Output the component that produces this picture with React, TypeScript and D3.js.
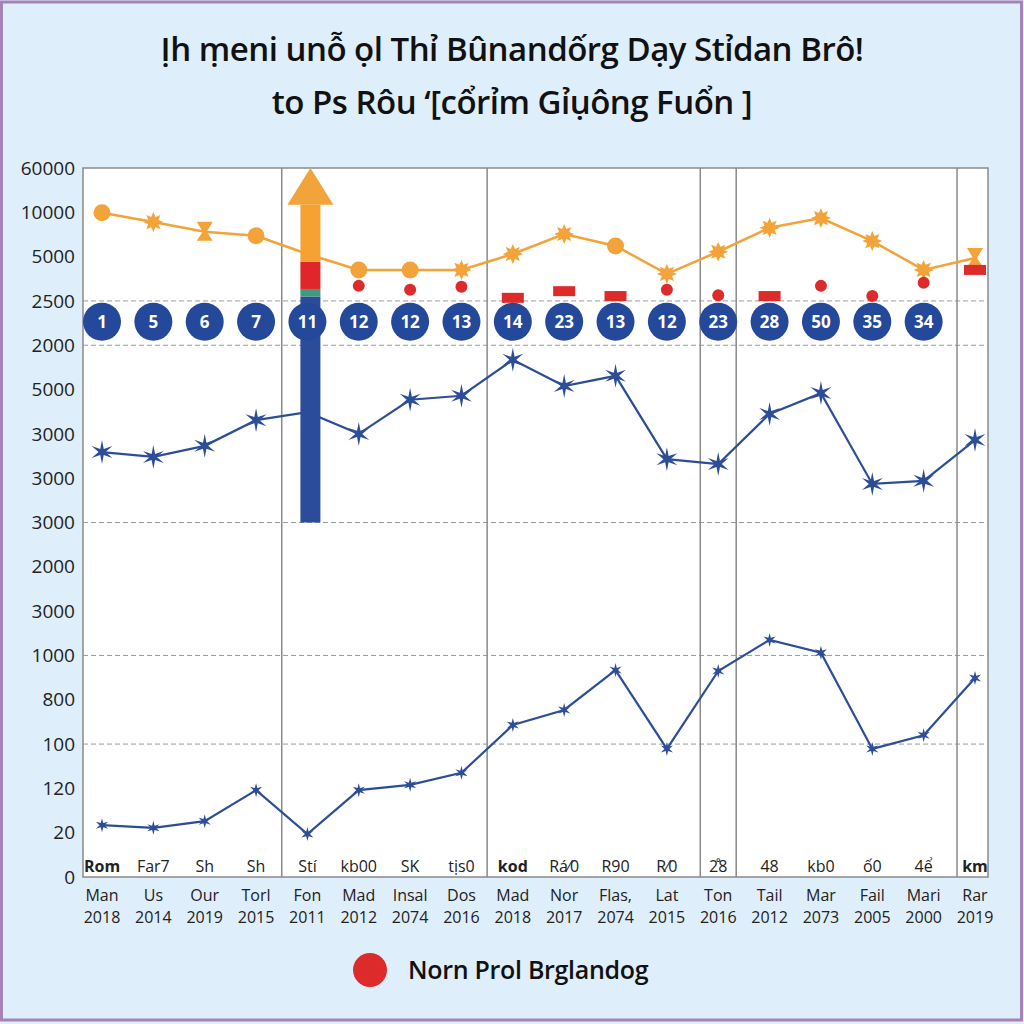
import React from "react";
import * as d3 from "d3";

// tick labels as printed on the left axis (top to bottom)
const yTickLabels = [
  "60000", "10000", "5000", "2500", "2000", "5000", "3000", "3000", "3000",
  "2000", "3000", "1000", "800", "100", "120", "20", "0",
];
const gridTicks = [13, 12, 8, 5, 3];

const innerLabels = ["Rom", "Far7", "Sh", "Sh", "Stí", "kb00", "SK", "tịs0", "kod", "Rá⁄0", "R90", "R⁄0", "2̊8", "48", "kb0", "ố0", "4ể", "km"];
const months = ["Man", "Us", "Our", "Torl", "Fon", "Mad", "Insal", "Dos", "Mad", "Nor", "Flas,", "Lat", "Ton", "Tail", "Mar", "Fail", "Mari", "Rar"];
const years = ["2018", "2014", "2019", "2015", "2011", "2012", "2074", "2016", "2018", "2017", "2074", "2015", "2016", "2012", "2073", "2005", "2000", "2019"];

// values in axis-step units (0 = bottom tick, 16 = top tick)
const orangeValues = [14.99, 14.78, 14.56, 14.47, 14.06, 13.7, 13.7, 13.7, 14.06, 14.51, 14.24, 13.61, 14.11, 14.65, 14.87, 14.35, 13.7, 13.97];
const orangeMarks = ["circle", "star", "x", "circle", "none", "circle", "circle", "star", "star", "star", "circle", "star", "star", "star", "star", "star", "star", "x"];
const upperValues = [9.59, 9.48, 9.73, 10.31, 10.49, 10.0, 10.77, 10.86, 11.67, 11.08, 11.31, 9.43, 9.32, 10.45, 10.92, 8.87, 8.94, 9.86];
const lowerValues = [1.17, 1.11, 1.26, 1.96, 0.97, 1.96, 2.08, 2.35, 3.43, 3.77, 4.67, 2.89, 4.65, 5.35, 5.06, 2.89, 3.2, 4.49];
const badgeValues = [1, 5, 6, 7, 11, 12, 12, 13, 14, 23, 13, 12, 23, 28, 50, 35, 34];
const badgeLevel = 12.53;
const redValues = [null, null, null, null, null, 13.34, 13.25, 13.32, 13.07, 13.22, 13.11, 13.25, 13.13, 13.11, 13.34, 13.11, 13.41, 13.7];
const redShapes = ["", "", "", "", "", "dot", "dot", "dot", "rect", "rect", "rect", "dot", "dot", "rect", "dot", "dot", "dot", "rect"];
const arrowIndex = 4;
const arrowStops = [8.0, 13.1, 13.27, 13.88, 15.17, 16];
const arrowColors = ["#2b4c9b", "#3f9a7e", "#e0262a", "#f5a233"];
const dividerAfter = [3.5, 7.5, 11.65, 12.35, 16.65];
const legendLabel = "Norn Prol Brglandog";
const titleLines = ["Ịh ṃeni unỗ ọl Thỉ Bûnandốrg Dạy Stỉdan Brô!", "to Ps Rôu ‘[cổrỉm Gỉụông Fuổn ]"];

const W = 1024, H = 1024;
const plot = { left: 83, right: 988, top: 168, bottom: 877 };
const ORANGE = "#f2a33a";
const BLUE = "#2d4e97";
const RED = "#dd2a2a";

function starPath(cx: number, cy: number, n: number, ro: number, ri: number) {
  const pts: [number, number][] = [];
  for (let i = 0; i < n * 2; i++) {
    const a = (Math.PI * i) / n - Math.PI / 2;
    const r = i % 2 === 0 ? ro : ri;
    pts.push([cx + r * Math.cos(a), cy + r * Math.sin(a)]);
  }
  return "M" + pts.map((p) => p.join(",")).join("L") + "Z";
}

export default function App() {
  const x = d3.scalePoint<number>().domain(d3.range(months.length)).range([102, 975]);
  const y = d3.scaleLinear().domain([0, 16]).range([plot.bottom, plot.top]);
  const line = d3.line<number>().x((_, i) => x(i)!).y((d) => y(d));
  const step = x.step();

  return (
    <div style={{ position: "fixed", left: 0, top: 0 }}>
      <svg width={W} height={H} style={{ display: "block", fontFamily: "'Open Sans', 'Noto Sans', sans-serif" }}>
        <rect x={0} y={0} width={W} height={H} fill="#dfeefb" />
        <rect x={1.5} y={2} width={W - 4} height={H - 6} fill="none" stroke="#a683b6" strokeWidth={3} />

        {titleLines.map((t, i) => (
          <text key={i} x={512} y={61 + i * 53} textAnchor="middle" fontSize={33} fontWeight={600} fill="#111" letterSpacing={-0.5}>
            {t}
          </text>
        ))}

        <rect x={plot.left} y={plot.top} width={plot.right - plot.left} height={plot.bottom - plot.top} fill="#fff" stroke="#8a8a8a" strokeWidth={1.5} />

        {gridTicks.map((t) => (
          <line key={t} x1={plot.left} x2={plot.right} y1={y(t)} y2={y(t)} stroke="#9a9a9a" strokeDasharray="5,3" strokeWidth={1} />
        ))}

        {dividerAfter.map((d, i) => (
          <line key={i} x1={x(0)! + d * step} x2={x(0)! + d * step} y1={plot.top} y2={plot.bottom} stroke="#8a8a8a" strokeWidth={1.5} />
        ))}

        {yTickLabels.map((l, i) => (
          <text key={i} x={75} y={y(16 - i)} dy="0.35em" textAnchor="end" fontSize={19} fill="#222">
            {l}
          </text>
        ))}

        {/* lower line */}
        <path d={line(lowerValues)!} fill="none" stroke={BLUE} strokeWidth={2.2} />
        {lowerValues.map((v, i) => (
          <path key={i} d={starPath(x(i)!, y(v), 6, 7, 2.5)} fill={BLUE} />
        ))}

        {/* upper star line */}
        <path d={line(upperValues)!} fill="none" stroke={BLUE} strokeWidth={2.2} />
        {upperValues.map((v, i) =>
          i === arrowIndex ? null : <path key={i} d={starPath(x(i)!, y(v), 6, 12, 3.5)} fill={BLUE} />
        )}

        {/* orange line */}
        <path d={line(orangeValues)!} fill="none" stroke={ORANGE} strokeWidth={2.5} />
        {orangeValues.map((v, i) => {
          const cx = x(i)!, cy = y(v);
          const m = orangeMarks[i];
          if (m === "circle") return <circle key={i} cx={cx} cy={cy} r={8.5} fill={ORANGE} />;
          if (m === "star") return <path key={i} d={starPath(cx, cy, 8, 10, 5.5)} fill={ORANGE} />;
          if (m === "x")
            return (
              <path key={i} d={`M${cx - 8},${cy - 10}L${cx + 8},${cy - 10}L${cx + 2},${cy}L${cx + 8},${cy + 9}L${cx - 8},${cy + 9}L${cx - 2},${cy}Z`} fill={ORANGE} />
            );
          return null;
        })}

        {/* red markers */}
        {redValues.map((v, i) => {
          if (v === null) return null;
          const cx = x(i)!, cy = y(v);
          return redShapes[i] === "rect" ? (
            <rect key={i} x={cx - 11} y={cy - 5} width={22} height={10} fill={RED} />
          ) : (
            <circle key={i} cx={cx} cy={cy} r={6} fill={RED} />
          );
        })}

        {/* arrow */}
        {arrowColors.map((c, k) => (
          <rect key={k} x={x(arrowIndex)! + 3 - 10} y={y(arrowStops[k + 1])} width={20} height={y(arrowStops[k]) - y(arrowStops[k + 1])} fill={c} />
        ))}
        <path
          d={`M${x(arrowIndex)! + 3},${y(arrowStops[5])}L${x(arrowIndex)! + 26},${y(arrowStops[4])}L${x(arrowIndex)! - 20},${y(arrowStops[4])}Z`}
          fill={ORANGE}
        />

        {/* badges */}
        {badgeValues.map((b, i) => (
          <g key={i} transform={`translate(${x(i)},${y(badgeLevel)})`}>
            <circle r={19} fill="#24489a" />
            <text dy="0.36em" textAnchor="middle" fontSize={17} fontWeight={700} fill="#fff">
              {b}
            </text>
          </g>
        ))}

        {/* x labels */}
        {months.map((m, i) => (
          <g key={i} transform={`translate(${x(i)},0)`}>
            <text y={872} textAnchor="middle" fontSize={16} fontWeight={i === 0 || i === 8 || i === 17 ? 700 : 400} fill="#222">
              {innerLabels[i]}
            </text>
            <text y={901} textAnchor="middle" fontSize={16} fill="#222">{m}</text>
            <text y={923} textAnchor="middle" fontSize={16} fill="#222">{years[i]}</text>
          </g>
        ))}

        {/* legend */}
        <circle cx={370} cy={970} r={17} fill={RED} />
        <text x={408} y={970} dy="0.35em" fontSize={25} fontWeight={600} fill="#111" letterSpacing={-0.3}>
          {legendLabel}
        </text>
      </svg>
    </div>
  );
}
